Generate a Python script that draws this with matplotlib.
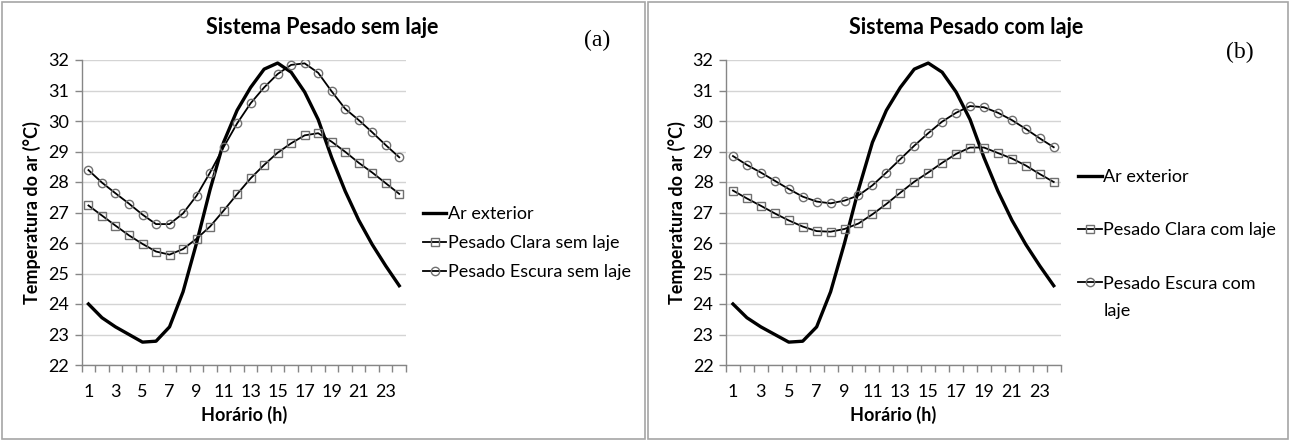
import numpy as np
import matplotlib
matplotlib.use('Agg')
from matplotlib import pyplot as plt
from matplotlib.patches import Rectangle

plt.rcParams['font.family'] = ['Lato', 'DejaVu Sans']

horas = list(range(1, 25))
ar_exterior = [24.0, 23.55, 23.25, 23.0, 22.75, 22.78, 23.25, 24.4, 26.0, 27.75,
               29.3, 30.35, 31.1, 31.7, 31.9, 31.6, 30.95, 30.05, 28.8, 27.7,
               26.75, 25.95, 25.25, 24.6]
clara_sem = [27.23, 26.9, 26.57, 26.25, 25.97, 25.72, 25.62, 25.8, 26.14, 26.54,
             27.06, 27.6, 28.12, 28.56, 28.96, 29.27, 29.53, 29.6, 29.32, 28.99,
             28.63, 28.31, 27.96, 27.61]
escura_sem = [28.39, 27.98, 27.63, 27.29, 26.93, 26.62, 26.62, 26.97, 27.55, 28.31,
              29.14, 29.92, 30.58, 31.1, 31.54, 31.84, 31.89, 31.58, 30.97, 30.4,
              30.03, 29.63, 29.21, 28.81]
clara_com = [27.72, 27.46, 27.22, 26.97, 26.74, 26.54, 26.39, 26.37, 26.46, 26.64,
             26.94, 27.28, 27.65, 28.01, 28.31, 28.63, 28.92, 29.13, 29.13, 28.95,
             28.77, 28.54, 28.26, 28.0]
escura_com = [28.85, 28.56, 28.31, 28.04, 27.77, 27.52, 27.36, 27.3, 27.39, 27.56,
              27.89, 28.31, 28.75, 29.19, 29.6, 29.98, 30.27, 30.49, 30.45, 30.27,
              30.03, 29.74, 29.43, 29.14]

fig = plt.figure(figsize=(12.91, 4.41), dpi=100)

# molduras dos dois graficos
fig.patches.append(Rectangle((2/1291, 2/441), 643/1291, 437/441, transform=fig.transFigure,
                             fill=False, edgecolor='#a6a6a6', lw=1.2))
fig.patches.append(Rectangle((648/1291, 2/441), 640/1291, 437/441, transform=fig.transFigure,
                             fill=False, edgecolor='#a6a6a6', lw=1.2))

cinza = '#868686'
fs = 13


def painel(rect, clara, escura, titulo, letra, nomes, leg_y, leg_esp, tit_x, letra_xy):
    ax = fig.add_axes(rect)
    ax.plot(horas, ar_exterior, color='black', lw=2.4, label=nomes[0], zorder=3)
    ax.plot(horas, clara, color='black', lw=1.3, marker='s', ms=6, mfc='none',
            mec='#707070', mew=1.0, label=nomes[1], zorder=3)
    ax.plot(horas, escura, color='black', lw=1.3, marker='o', ms=6, mfc='none',
            mec='#707070', mew=1.0, label=nomes[2], zorder=3)
    ax.set_xlim(0.5, 24.5)
    ax.set_ylim(22, 32)
    ax.set_yticks(range(22, 33))
    ax.set_xticks(horas[::2])
    ax.set_xticks(np.arange(0.5, 24.6, 1), minor=True)
    ax.tick_params(axis='x', which='major', length=0, pad=14, labelsize=fs)
    ax.tick_params(axis='x', which='minor', length=5, color=cinza, width=1)
    ax.tick_params(axis='y', length=5, color=cinza, width=1, pad=4, labelsize=fs)
    ax.grid(axis='y', color='#d4d4d4', lw=1)
    ax.set_axisbelow(True)
    for s in ['top', 'right']:
        ax.spines[s].set_visible(False)
    for s in ['left', 'bottom']:
        ax.spines[s].set_color(cinza)
        ax.spines[s].set_linewidth(1)
    ax.set_xlabel('Horário (h)', fontweight='bold', fontsize=fs, labelpad=4)
    ax.set_ylabel('Temperatura do ar (°C)', fontweight='bold', fontsize=fs, labelpad=5)
    fig.text(tit_x, 1 - 28/441, titulo, ha='center', va='center', fontweight='bold',
             fontsize=15.5)
    fig.text(letra_xy[0], letra_xy[1], letra, ha='center', va='center',
             fontsize=17, family='Liberation Serif')
    leg = ax.legend(loc='center left', bbox_to_anchor=(1.052, leg_y), frameon=False,
                    fontsize=fs, handlelength=1.3, handletextpad=0.1, numpoints=1,
                    labelspacing=leg_esp, borderpad=0, borderaxespad=0)
    return ax, leg


painel([81.7/1291, 76/441, 324.3/1291, 305/441], clara_sem, escura_sem,
       'Sistema Pesado sem laje', '(a)',
       ['Ar exterior', 'Pesado Clara sem laje', 'Pesado Escura sem laje'],
       0.40, 0.72, 322/1291, (597/1291, 1 - 40/441))
ax_b, leg_b = painel([726/1291, 76/441, 334.7/1291, 305/441], clara_com, escura_com,
                     'Sistema Pesado com laje', '(b)',
                     ['Ar exterior', 'Pesado Clara com laje', 'Pesado Escura com'],
                     0.441, 2.05, 966/1291, (1240/1291, 1 - 52/441))

# segunda linha do ultimo item da legenda (b), como no Excel
fig.canvas.draw()
bb = leg_b.get_texts()[2].get_window_extent()
fig.text(bb.x0 / 1291, (bb.y0 - 27 + bb.height / 2) / 441, 'laje', ha='left',
         va='center', fontsize=fs)

fig.savefig('out.png', dpi=100)
